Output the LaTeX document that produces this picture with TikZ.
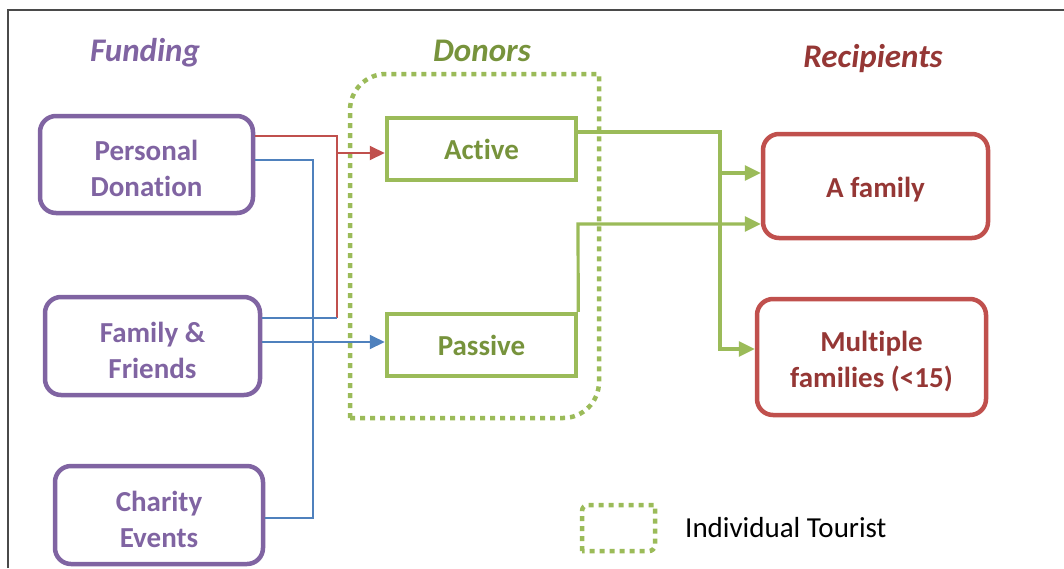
\documentclass[tikz,border=0pt]{standalone}
\usepackage{fontspec}
\setmainfont{Carlito}[Ligatures=NoCommon]
\usetikzlibrary{arrows.meta}

\definecolor{fundpurple}{HTML}{8064A2}
\definecolor{donorgreen}{HTML}{9BBB59}
\definecolor{donortext}{HTML}{77933C}
\definecolor{recipred}{HTML}{C0504D}
\definecolor{reciptext}{HTML}{953735}
\definecolor{linkblue}{HTML}{4F81BD}
\definecolor{framegray}{HTML}{4A4A4A}

% extra height on the first line of two-line labels
\newcommand\firstlinepad{\rule{0pt}{29pt}}

\tikzset{
  boxtext/.style={font=\fontsize{29}{36}\selectfont\bfseries, align=center},
  fundbox/.style={boxtext, draw=fundpurple, text=fundpurple, line width=4.5pt,
    rounded corners=16pt, rectangle, inner sep=0pt},
  donorbox/.style={boxtext, draw=donorgreen, text=donortext, line width=4.5pt,
    rectangle, inner sep=0pt, minimum width=189pt, minimum height=62pt},
  recipbox/.style={boxtext, draw=recipred, text=reciptext, line width=4.5pt,
    rounded corners=16pt, rectangle, inner sep=0pt},
  heading/.style={font=\fontsize{33}{40}\selectfont\bfseries\itshape},
  dotline/.style={draw=donorgreen, line width=4.5pt, dash pattern=on 5pt off 5pt},
  redlink/.style={draw=recipred, line width=2pt},
  bluelink/.style={draw=linkblue, line width=2pt},
  greenlink/.style={draw=donorgreen, line width=3.2pt},
  tipthin/.style={-{Triangle[length=15pt,width=14pt]}},
  tipthick/.style={-{Triangle[length=16pt,width=15pt]}},
}

\begin{document}
\begin{tikzpicture}[x=1pt,y=1pt]
\useasboundingbox (0,0) rectangle (1064,-568);

% outer frame
\draw[framegray, line width=1.5pt] (8,-568) -- (8,-10) -- (1064,-10);

% column headings
\node[heading, text=fundpurple] (hfund) at (145,-53) {Funding};
\node[heading, text=donortext] (hdonor) at (482,-51) {Donors};
\node[heading, text=reciptext] (hrecip) at (873,-59) {Recipients};

% individual tourist group
\draw[dotline] (350,-418) -- (350,-110) arc[start angle=180,end angle=90,radius=36]
  -- (599,-74) -- (599,-382) arc[start angle=0,end angle=-90,radius=36] -- cycle;

% funding sources
\node[fundbox, minimum width=213pt, minimum height=97pt] (pd) at (146.5,-164.5) {\firstlinepad Personal\\Donation};
\node[fundbox, minimum width=215pt, minimum height=98pt] (ff) at (152.5,-346) {\firstlinepad Family \&\\Friends};
\node[fundbox, minimum width=208pt, minimum height=98pt] (ce) at (159,-515) {\firstlinepad Charity\\Events};

% donors
\node[donorbox] (active) at (481.5,-149) {Active};
\node[donorbox] (passive) at (481.5,-345) {Passive};

% recipients
\node[recipbox, minimum width=225pt, minimum height=104pt] (afam) at (875.5,-186) {\rule{0pt}{27pt}A family};
\node[recipbox, minimum width=229pt, minimum height=116pt] (multi) at (871.5,-357) {\firstlinepad Multiple\\families (<15)};

% junction points
\coordinate (rj) at (337,-136);
\coordinate (rb) at (337,-318);
\coordinate (ra) at (337,-153);
\coordinate (bj) at (313,-160);
\coordinate (bc) at (313,-518);
\coordinate (bp) at (313,-342);
\coordinate (gj) at (720,-132);
\coordinate (ga) at (720,-173);
\coordinate (gm) at (720,-349);
\coordinate (gp) at (578,-224);

% funding to active donors
\draw[redlink] (pd.east |- rj) -- (rj) -- (rb);
\draw[bluelink] (ff.east |- rb) -- (rb);
\draw[redlink, tipthin] (ra) -- (active.west |- ra);

% funding to passive donors
\draw[bluelink] (pd.east |- bj) -- (bj) -- (bc) -- (ce.east |- bc);
\draw[bluelink, tipthin] (ff.east |- bp) -- (passive.west |- bp);

% donors to recipients
\draw[greenlink, tipthick] (active.east |- gj) -- (gj) -- (gm) -- (multi.west |- gm);
\draw[greenlink, tipthick] (ga) -- (afam.west |- ga);
\draw[greenlink, tipthick] (passive.north east) -- (gp) -- (afam.west |- gp);

% legend
\draw[dotline] (582,-551) -- (582,-511) arc[start angle=180,end angle=90,radius=6]
  -- (655,-505) -- (655,-545) arc[start angle=0,end angle=-90,radius=6] -- cycle;
\node[anchor=west, font=\fontsize{29}{35}\selectfont, inner sep=0pt] (legend) at (685,-528) {Individual Tourist};
\end{tikzpicture}
\end{document}
